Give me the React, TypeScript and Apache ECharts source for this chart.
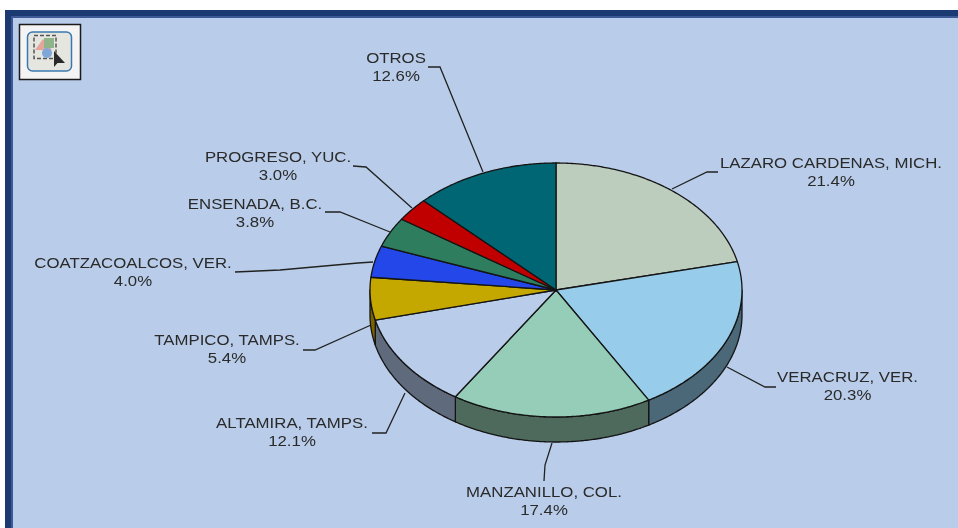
import React, { useEffect, useRef } from "react";
import * as echarts from "echarts";

const ports = [
  "LAZARO CARDENAS, MICH.",
  "VERACRUZ, VER.",
  "MANZANILLO, COL.",
  "ALTAMIRA, TAMPS.",
  "TAMPICO, TAMPS.",
  "COATZACOALCOS, VER.",
  "ENSENADA, B.C.",
  "PROGRESO, YUC.",
  "OTROS",
];
const shares = [21.4, 20.3, 17.4, 12.1, 5.4, 4.0, 3.8, 3.0, 12.6];
const topColors = ["#bccdbd", "#97cdea", "#95cdb9", "#b9cdea", "#c4a800", "#2347e8", "#2e7d5e", "#c00000", "#006673"];
const sideColors = ["#5e6a60", "#4a6878", "#4e6a5c", "#5f6b7d", "#7a6400", "#14288a", "#1a4a38", "#700000", "#003c44"];

const labelAnchors: [number, number][] = [
  [831, 172], [847.5, 386], [544, 501], [292, 432], [227, 349], [133, 272], [255, 213], [278, 166], [396, 67],
];
const leaders: [number, number][][] = [
  [[672, 189], [707, 172], [718, 172]],
  [[727, 367], [765, 387], [776, 387]],
  [[552, 443], [545, 465], [544, 481]],
  [[405, 393], [386, 433], [372, 433]],
  [[371, 325], [315, 350], [303, 350]],
  [[373, 262], [358, 263], [280, 270], [235, 272]],
  [[390, 232], [340, 212], [325, 212]],
  [[412, 208], [366, 167], [353, 166]],
  [[483, 172], [440, 67], [428, 67]],
];

const CX = 556;
const CY = 290;
const RX = 186;
const RY = 127;
const DEPTH = 25;
const total = shares.reduce((a, b) => a + b, 0);
const startAngle = (i: number) => (shares.slice(0, i).reduce((a, b) => a + b, 0) / total) * 360;
const pt = (deg: number, dy = 0): [number, number] => {
  const r = (deg * Math.PI) / 180;
  return [CX + RX * Math.sin(r), CY - RY * Math.cos(r) + dy];
};
const arc = (a: number, b: number, dy = 0) => {
  const out: [number, number][] = [];
  const n = Math.max(2, Math.ceil((b - a) / 0.5));
  for (let k = 0; k <= n; k++) out.push(pt(a + ((b - a) * k) / n, dy));
  return out;
};
const STROKE = "#141414";

export default function App() {
  const ref = useRef<HTMLDivElement>(null);
  useEffect(() => {
    document.body.style.margin = "0";
    const chart = echarts.init(ref.current!, null, { renderer: "svg" });
    const textEls = ports.map((p, i) => ({
      type: "text",
      x: labelAnchors[i][0],
      y: labelAnchors[i][1],
      scaleX: 1.2,
      style: {
        text: `${p}\n${shares[i].toFixed(1)}%`,
        fill: "#2a2a2a",
        font: "14px 'Liberation Sans'",
        lineHeight: 18,
        align: "center",
        verticalAlign: "middle",
      },
    }));
    const leaderEls = leaders.map((pts) => ({
      type: "polyline",
      shape: { points: pts },
      style: { stroke: "#222222", lineWidth: 1.3, fill: "none" },
    }));
    chart.setOption({
      animation: false,
      backgroundColor: "#ffffff",
      tooltip: { show: false },
      graphic: [
        { type: "rect", shape: { x: 5, y: 10, width: 953, height: 518 }, style: { fill: "#1c3a72" } },
        { type: "rect", shape: { x: 11, y: 16, width: 947, height: 512 }, style: { fill: "#3d5a96" } },
        { type: "rect", shape: { x: 13, y: 18, width: 945, height: 510 }, style: { fill: "#b9cdea" } },
        ...leaderEls,
        ...textEls,
        { type: "rect", shape: { x: 19.5, y: 24.5, width: 61, height: 55 }, style: { fill: "#f4f4f4", stroke: "#1a1a1a", lineWidth: 1.5 } },
        { type: "rect", shape: { x: 27.5, y: 32, width: 44, height: 39, r: 5 }, style: { fill: "#e6e6e0", stroke: "#3a78b0", lineWidth: 1.5 } },
        { type: "rect", shape: { x: 34, y: 35.5, width: 22, height: 23 }, style: { fill: "none", stroke: "#555555", lineWidth: 1.5, lineDash: [4, 2] } },
        { type: "polygon", shape: { points: [[43, 39], [35, 50], [52, 50]] }, style: { fill: "#e6a59c" } },
        { type: "rect", shape: { x: 44, y: 38, width: 10, height: 10 }, style: { fill: "#8fb48a" } },
        { type: "circle", shape: { cx: 47, cy: 53, r: 5 }, style: { fill: "#7fa8d8" } },
        { type: "polygon", shape: { points: [[54, 51], [54, 67], [57.5, 63], [65, 63]] }, style: { fill: "#2a2a2a" } },
      ],
      series: [
        {
          type: "custom",
          coordinateSystem: "none",
          silent: true,
          z: 2,
          data: shares.map((v) => [v]),
          renderItem: (params: any) => {
            const i = params.dataIndex;
            const a = Math.max(startAngle(i), 90);
            const b = Math.min(startAngle(i + 1), 270);
            if (b <= a) return { type: "group", children: [] };
            return {
              type: "polygon",
              shape: { points: [...arc(a, b), ...arc(a, b, DEPTH).reverse()] },
              style: { fill: sideColors[i], stroke: STROKE, lineWidth: 1.3, lineJoin: "round" },
            };
          },
        },
        {
          type: "custom",
          coordinateSystem: "none",
          silent: true,
          z: 3,
          data: shares.map((v) => [v]),
          renderItem: (params: any) => {
            const i = params.dataIndex;
            return {
              type: "polygon",
              shape: { points: [[CX, CY], ...arc(startAngle(i), startAngle(i + 1))] },
              style: { fill: topColors[i], stroke: STROKE, lineWidth: 1.3, lineJoin: "round" },
            };
          },
        },
      ],
    });
    return () => chart.dispose();
  }, []);
  return <div ref={ref} style={{ width: 958, height: 528, filter: "blur(0.5px)" }} />;
}
